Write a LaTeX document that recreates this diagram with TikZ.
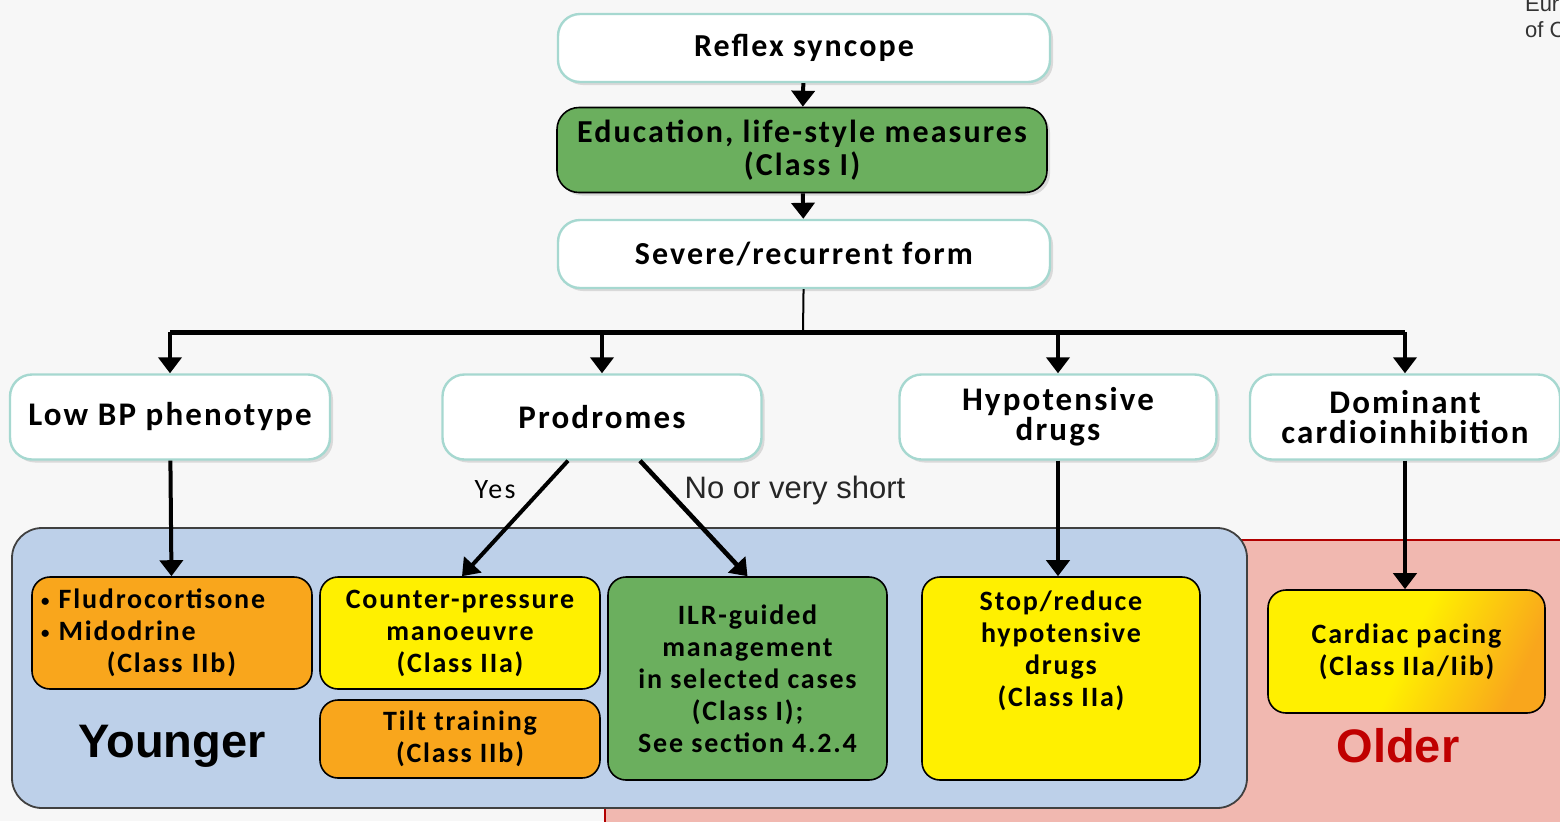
\documentclass[tikz,border=0pt]{standalone}
\usepackage{fontspec}
\setmainfont{Carlito}
\newfontfamily\boxfont{Carlito}[LetterSpace=6.5]
\newfontfamily\labelfont{Carlito}[LetterSpace=8]
\newfontfamily\arialfont{Liberation Sans}
\usetikzlibrary{arrows.meta}
\usetikzlibrary{shadows}
\usetikzlibrary{positioning}

\definecolor{paper}{HTML}{F7F7F7}
\definecolor{tealline}{HTML}{A6D8D0}
\definecolor{escgreen}{HTML}{6BAF5E}
\definecolor{escyellow}{HTML}{FFF000}
\definecolor{escorange}{HTML}{F9A61C}
\definecolor{youngblue}{HTML}{BDD0E9}
\definecolor{oldpink}{HTML}{F1B8B0}
\definecolor{oldred}{HTML}{C00000}

\newcommand{\smallbullet}{\raisebox{0.2ex}{\scalebox{0.6}{\textbullet}}}

\tikzset{
  topbox/.style={rectangle, rounded corners=11pt, draw=tealline, line width=1.2pt,
    fill=white, drop shadow={opacity=0.25, shadow xshift=1.5pt, shadow yshift=-1.5pt},
    align=center, font=\boxfont\bfseries\fontsize{16.5}{15}\selectfont},
  treatbox/.style={rectangle, rounded corners=9pt, draw=black, line width=0.8pt,
    align=center, font=\boxfont\bfseries\fontsize{14}{16}\selectfont,
    minimum width=140pt},
}

\begin{document}
\begin{tikzpicture}[x=0.5pt, y=-0.5pt]
	\useasboundingbox (0,0) rectangle (1560,821);
	\fill[paper] (0,0) rectangle (1560,821);
	\node[anchor=west, align=left, font=\arialfont\fontsize{11}{13}\selectfont,
	      text=black!80] (esc) at (1518,19) {European Society\\of Cardiology};

	% age groups
	\draw[fill=oldpink, draw=red!70!black, line width=0.8pt, rounded corners=16pt]
		(605,540) rectangle (1600,860);
	\draw[fill=youngblue, draw=black!75, line width=0.9pt, rounded corners=15pt]
		(12,528) rectangle (1247,808);
	\node[font=\arialfont\bfseries\fontsize{23.5}{26}\selectfont] (younger) at (172,746) {Younger};
	\node[font=\arialfont\bfseries\fontsize{23.5}{26}\selectfont, text=oldred] (older) at (1398,746) {Older};

	\begin{scope}[every node/.style={topbox}]
		\node[minimum width=246pt, minimum height=34pt, font=\boxfont\bfseries\fontsize{16}{15}\selectfont]
			(reflex) at (804,48) {Reflex syncope};
		\node[minimum width=245pt, minimum height=42.5pt, fill=escgreen, draw=black,
		      line width=0.8pt, drop shadow={opacity=0}, font=\boxfont\bfseries\fontsize{16}{16.5}\selectfont]
		      (edu) at (802,150) {Education, life-style measures\\(Class I)};
		\node[minimum width=246pt, minimum height=34pt, font=\boxfont\bfseries\fontsize{16}{15}\selectfont]
			(severe) at (804,254) {Severe/recurrent form};
		\node[minimum width=160pt, minimum height=42.5pt] (lowbp) at (170,417) {Low BP phenotype};
		\node[minimum width=159.5pt, minimum height=42.5pt] (prod) at (602,417) {Prodromes};
		\node[minimum width=158.5pt, minimum height=42.5pt] (hypo) at (1058,417) {Hypotensive\\drugs};
		\node[minimum width=155pt, minimum height=42.5pt] (domin) at (1405,417) {Dominant\\cardioinhibition};
	\end{scope}

	\begin{scope}[every node/.style={treatbox}]
		\node[fill=escorange, minimum height=56pt, align=left, text width=131pt] (flud) at (172,633)
			{\smallbullet\ Fludrocortisone\\\smallbullet\ Midodrine\\\hspace*{2.35em}(Class IIb)};
		\node[fill=escyellow, minimum height=56pt] (counter) at (460,633)
			{Counter-pressure\\manoeuvre\\(Class IIa)};
		\node[fill=escorange, minimum height=39pt] (tilt) at (460,739)
			{Tilt training\\(Class IIb)};
		\node[fill=escgreen, minimum width=139.5pt, minimum height=101.5pt] (ilr) at (747.5,678.5)
			{ILR-guided\\management\\in selected cases\\(Class I);\\See section 4.2.4};
		\node[fill=escyellow, minimum width=139pt, minimum height=101.5pt] (stop) at (1061,678.5) {};
		\node[left color=escyellow, right color=escorange, middle color=escyellow,
		      shading angle=65, minimum width=138.5pt, minimum height=61.5pt] (pacing) at (1406.5,651.5)
			{Cardiac pacing\\(Class IIa/Iib)};
	\end{scope}
	\node[treatbox, draw=none, below=3.5pt of stop.north] (stoptext)
		{Stop/reduce\\hypotensive\\drugs\\(Class IIa)};

	\coordinate (bar) at (803,332);
	\node[font=\labelfont\fontsize{14}{16}\selectfont] (yes) at (495,490) {Yes};
	\node[font=\arialfont\fontsize{15.5}{17}\selectfont, text=black!85] (noshort) at (795,490) {No or very short};

	\begin{scope}[>={Triangle[width=11.5pt,length=8pt]},
	              every edge/.style={draw=black, line width=2pt}]
		\path (reflex) edge[->] (edu);
		\path (edu) edge[->] (severe);
		\path (severe) edge[line width=1pt] (bar);
		\path (lowbp.north |- bar) edge[line width=2.5pt] (domin.north |- bar);
		\path (lowbp.north |- bar) edge[->] (lowbp);
		\path (prod.north |- bar) edge[->] (prod);
		\path (hypo.north |- bar) edge[->] (hypo);
		\path (domin.north |- bar) edge[->] (domin);
		\path (lowbp) edge[->] (flud);
		\path ([xshift=-17pt]prod.south) edge[->] ([xshift=1pt]counter.north);
		\path ([xshift=19pt]prod.south) edge[->, line width=2.3pt] (ilr.north);
		\path (hypo.south) edge[->] (hypo.south |- stop.north);
		\path (domin.south) edge[->] (domin.south |- pacing.north);
	\end{scope}
\end{tikzpicture}
\end{document}
